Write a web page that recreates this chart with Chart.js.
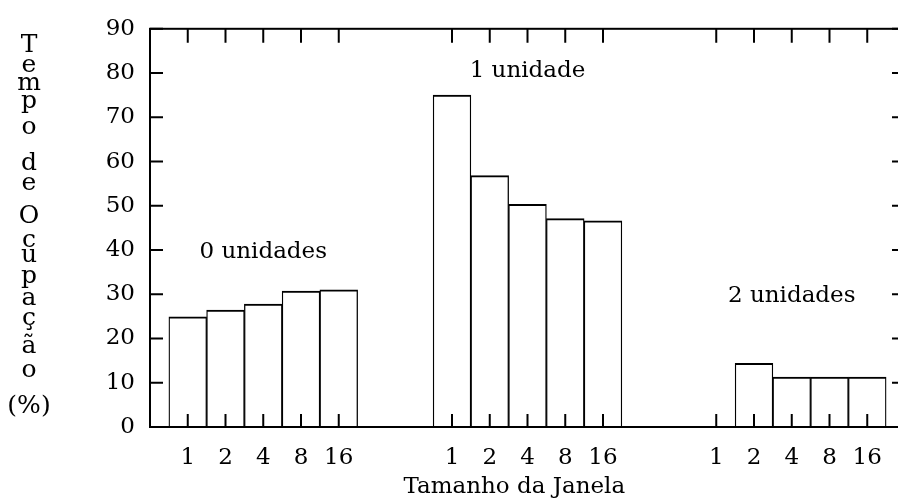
<!DOCTYPE html>
<html>
<head>
<meta charset="utf-8">
<script src="https://cdn.jsdelivr.net/npm/chart.js@4/dist/chart.umd.min.js"></script>
<style>
  html, body { margin: 0; padding: 0; background: #fff; overflow: hidden; }
  canvas { display: block; }
</style>
</head>
<body>
<canvas id="occupancyChart" width="920" height="498"></canvas>
<script>
// window sizes shown under every group
const windowSizes = ['1', '2', '4', '8', '16'];
const groupNames = ['0 unidades', '1 unidade', '2 unidades'];
const groupStarts = [0, 7, 14];

// Tempo de Ocupação (%)
const zeroUnits = [24.9, 26.4, 27.8, 30.7, 31.0];
const oneUnit = [75.0, 56.8, 50.3, 47.1, 46.6];
const twoUnits = [0, 14.4, 11.3, 11.3, 11.3];

// height (in % units) where each group name is written
const groupLabelLevels = [39.6, 80.4, 29.5];

const FONT = 'DejaVu Serif';

// stacked y title, letter + baseline
const yTitleLetters = [
  ['T', 52], ['e', 72], ['m', 90], ['p', 108], ['o', 134],
  ['d', 170], ['e', 190],
  ['O', 223], ['c', 247], ['u', 262], ['p', 283], ['a', 305],
  ['ç', 325], ['ã', 353], ['o', 377],
  ['(%)', 413]
];

function toPoints(values, start) {
  return values.map((v, i) => ({x: start + i, y: v}));
}

const tickPositions = [];
groupStarts.forEach(s => windowSizes.forEach((w, i) => tickPositions.push(s + i)));

const framePlugin = {
  id: 'frame',
  afterDraw(chart) {
    const ctx = chart.ctx;
    const a = chart.chartArea;
    const x = chart.scales.x;
    const y = chart.scales.y;

    ctx.save();
    ctx.strokeStyle = '#000';
    ctx.lineWidth = 2;
    ctx.strokeRect(a.left, a.top, a.right - a.left, a.bottom - a.top);

    ctx.beginPath();
    x.ticks.forEach(t => {
      let px = x.getPixelForValue(t.value);
      ctx.moveTo(px, a.bottom);
      ctx.lineTo(px, a.bottom - 13);
      ctx.moveTo(px, a.top);
      ctx.lineTo(px, a.top + 14);
    });
    y.ticks.forEach(t => {
      let py = y.getPixelForValue(t.value);
      ctx.moveTo(a.left, py);
      ctx.lineTo(a.left + 13, py);
      ctx.moveTo(a.right, py);
      ctx.lineTo(a.right - 13, py);
    });
    ctx.stroke();

    ctx.fillStyle = '#000';
    ctx.font = '23px "' + FONT + '"';
    ctx.textAlign = 'center';
    ctx.textBaseline = 'middle';
    groupNames.forEach((name, g) => {
      ctx.fillText(name, x.getPixelForValue(groupStarts[g] + 2), y.getPixelForValue(groupLabelLevels[g]));
    });

    // x title
    ctx.fillText('Tamanho da Janela', x.getPixelForValue(8.65), 487);

    // y title, one letter per line
    ctx.font = '25px "' + FONT + '"';
    ctx.textBaseline = 'alphabetic';
    yTitleLetters.forEach(([ch, base]) => ctx.fillText(ch, 29, base));
    ctx.restore();
  }
};

const barStyle = {
  backgroundColor: '#fff',
  borderColor: '#000',
  borderWidth: { top: 2, left: 1.3, right: 1.3, bottom: 0 },
  borderSkipped: 'bottom',
  barPercentage: 1,
  categoryPercentage: 1
};

new Chart(document.getElementById('occupancyChart').getContext('2d'), {
  type: 'bar',
  data: {
    datasets: [
      Object.assign({label: groupNames[0], data: toPoints(zeroUnits, groupStarts[0])}, barStyle),
      Object.assign({label: groupNames[1], data: toPoints(oneUnit, groupStarts[1])}, barStyle),
      Object.assign({label: groupNames[2], data: toPoints(twoUnits, groupStarts[2])}, barStyle)
    ]
  },
  options: {
    responsive: false,
    animation: false,
    devicePixelRatio: 1,
    layout: { padding: { top: 22, right: 15, left: 0, bottom: 0 } },
    plugins: { legend: { display: false }, tooltip: { enabled: false } },
    datasets: { bar: { grouped: false } },
    scales: {
      x: {
        type: 'linear',
        offset: false,
        min: -1,
        max: 19,
        grid: { display: false, drawTicks: false, offset: false },
        border: { display: false },
        afterBuildTicks: scale => { scale.ticks = tickPositions.map(v => ({value: v})); },
        afterFit: scale => { scale.height = 71; },
        ticks: {
          padding: 17,
          color: '#000',
          font: { family: FONT, size: 23 },
          autoSkip: false,
          maxRotation: 0,
          callback: v => windowSizes[(v - groupStarts.filter(s => s <= v).pop())]
        }
      },
      y: {
        min: 0,
        max: 90,
        grid: { display: false, drawTicks: false },
        border: { display: false },
        afterFit: scale => { scale.width = 150; },
        ticks: {
          stepSize: 10,
          padding: 15,
          color: '#000',
          font: { family: FONT, size: 23 }
        }
      }
    }
  },
  plugins: [framePlugin]
});
</script>
</body>
</html>
